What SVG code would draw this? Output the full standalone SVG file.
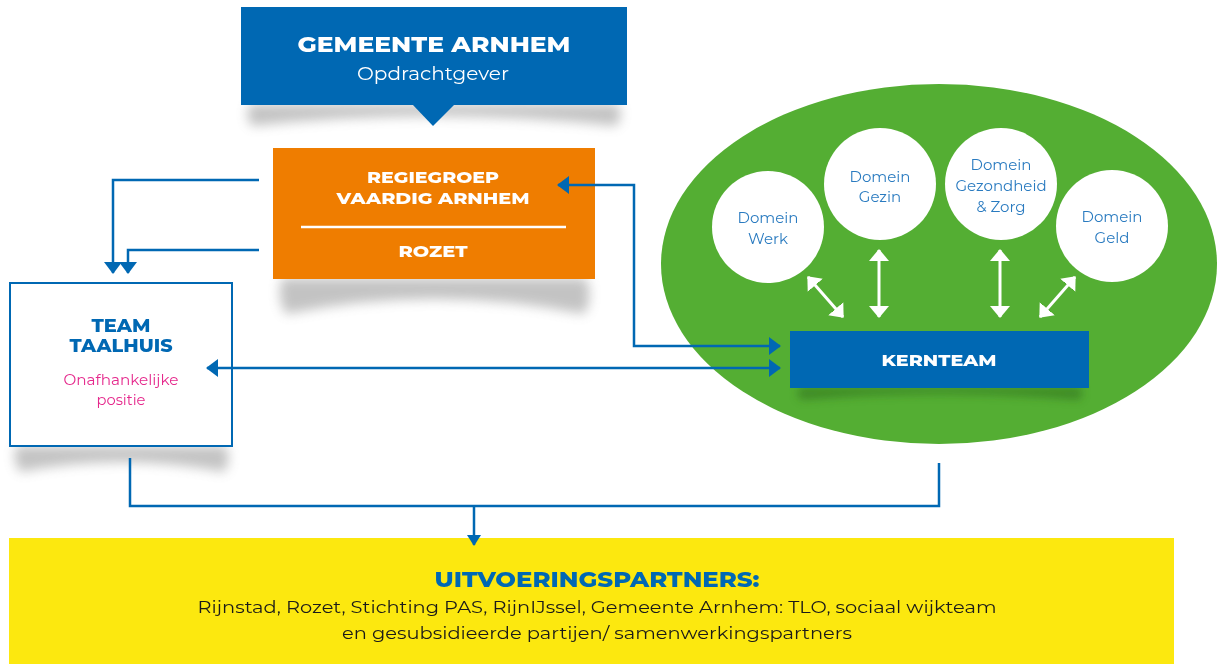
<svg xmlns="http://www.w3.org/2000/svg" width="1217" height="664" viewBox="0 0 1217 664">
<defs>
<style>
.bold{font-family:Montserrat,"Open Sans","Noto Sans",sans-serif;font-weight:800;}
.reg{font-family:Montserrat,"Open Sans","Noto Sans",sans-serif;font-weight:400;}
.conn{fill:none;stroke:#0068b3;stroke-width:2.5;}
.wconn{fill:none;stroke:#ffffff;stroke-width:3;}
.dom{fill:#2a7bc0;font-size:15px;text-anchor:middle;}
.shd{fill:#7a7a7a;}
</style>
<filter id="blur" x="-20%" y="-100%" width="140%" height="300%"><feGaussianBlur stdDeviation="6"/></filter>
<filter id="blur2" x="-20%" y="-100%" width="140%" height="300%"><feGaussianBlur stdDeviation="4"/></filter>
<marker id="ab" markerUnits="userSpaceOnUse" markerWidth="12" markerHeight="18" refX="11" refY="9" orient="auto-start-reverse"><path d="M0,0 L12,9 L0,18 z" fill="#0068b3"/></marker>
<marker id="abs" markerUnits="userSpaceOnUse" markerWidth="11" markerHeight="14" refX="10" refY="7" orient="auto"><path d="M0,0 L11,7 L0,14 z" fill="#0068b3"/></marker>
<marker id="aw" markerUnits="userSpaceOnUse" markerWidth="12" markerHeight="20" refX="11" refY="10" orient="auto-start-reverse"><path d="M0,0 L12,10 L0,20 z" fill="#ffffff"/></marker>
</defs>
<rect width="1217" height="664" fill="#ffffff"/>

<g id="shadows" opacity="0.45">
<path class="shd" d="M250,104 L618,104 Q624,116 616,126 Q433,106 252,126 Q244,116 250,104 z" filter="url(#blur)"/>
<path class="shd" d="M282,278 L586,278 Q594,298 584,314 Q434,284 286,314 Q276,298 282,278 z" filter="url(#blur)"/>
<path class="shd" d="M16,446 L226,446 Q232,460 224,472 Q121,452 20,472 Q12,460 16,446 z" filter="url(#blur)"/>
</g>

<g id="green-area">
<ellipse cx="939" cy="264" rx="278" ry="180" fill="#54ae33"/>
</g>

<g id="gemeente">
<rect x="241" y="7" width="386" height="98" fill="#0068b3"/>
<path d="M412,104 L455,104 L433,126 z" fill="#0068b3"/>
<text class="bold" x="434" y="52" font-size="22" fill="#ffffff" text-anchor="middle" textLength="273" lengthAdjust="spacingAndGlyphs">GEMEENTE ARNHEM</text>
<text class="reg" x="433" y="80" font-size="18" fill="#ffffff" text-anchor="middle" textLength="152" lengthAdjust="spacingAndGlyphs">Opdrachtgever</text>
</g>

<g id="regiegroep">
<rect x="273" y="148" width="322" height="131" fill="#ef7d00"/>
<text class="bold" x="433" y="183" font-size="17" fill="#ffffff" text-anchor="middle" textLength="132" lengthAdjust="spacingAndGlyphs">REGIEGROEP</text>
<text class="bold" x="433" y="204" font-size="17" fill="#ffffff" text-anchor="middle" textLength="193" lengthAdjust="spacingAndGlyphs">VAARDIG ARNHEM</text>
<line x1="301" y1="227" x2="566" y2="227" stroke="#ffffff" stroke-width="2.5"/>
<text class="bold" x="433" y="257" font-size="17" fill="#ffffff" text-anchor="middle" textLength="69" lengthAdjust="spacingAndGlyphs">ROZET</text>
</g>

<g id="taalhuis">
<rect x="10" y="283" width="222" height="163" fill="#ffffff" stroke="#0068b3" stroke-width="2"/>
<text class="bold" x="121" y="332" font-size="18" fill="#0068b3" text-anchor="middle" textLength="59" lengthAdjust="spacingAndGlyphs">TEAM</text>
<text class="bold" x="121" y="352" font-size="18" fill="#0068b3" text-anchor="middle" textLength="103" lengthAdjust="spacingAndGlyphs">TAALHUIS</text>
<text class="reg" x="121" y="385" font-size="15" fill="#e5288c" text-anchor="middle" textLength="115" lengthAdjust="spacingAndGlyphs">Onafhankelijke</text>
<text class="reg" x="121" y="405" font-size="15" fill="#e5288c" text-anchor="middle" textLength="49" lengthAdjust="spacingAndGlyphs">positie</text>
</g>

<g id="kernteam">
<path d="M800,387 L1080,387 Q1086,395 1078,400 Q939,388 802,400 Q794,395 800,387 z" fill="#2f6e1c" filter="url(#blur2)" opacity="0.55"/>
<rect x="790" y="331" width="299" height="57" fill="#0068b3"/>
<text class="bold" x="939" y="366" font-size="17" fill="#ffffff" text-anchor="middle" textLength="115" lengthAdjust="spacingAndGlyphs">KERNTEAM</text>
</g>

<g id="domein-werk">
<circle cx="768" cy="227" r="56" fill="#ffffff"/>
<text class="reg dom" x="768" y="223">Domein</text>
<text class="reg dom" x="768" y="244">Werk</text>
</g>
<g id="domein-gezin">
<circle cx="880" cy="184" r="56" fill="#ffffff"/>
<text class="reg dom" x="880" y="182">Domein</text>
<text class="reg dom" x="880" y="202">Gezin</text>
</g>
<g id="domein-gezondheid">
<circle cx="1001" cy="184" r="56" fill="#ffffff"/>
<text class="reg dom" x="1001" y="170">Domein</text>
<text class="reg dom" x="1001" y="191">Gezondheid</text>
<text class="reg dom" x="1001" y="212">&amp; Zorg</text>
</g>
<g id="domein-geld">
<circle cx="1112" cy="226" r="56" fill="#ffffff"/>
<text class="reg dom" x="1112" y="222">Domein</text>
<text class="reg dom" x="1112" y="243">Geld</text>
</g>

<g id="uitvoering">
<rect x="9" y="538" width="1165" height="126" fill="#fce80f"/>
<text class="bold" x="597" y="587" font-size="21" fill="#0068b3" text-anchor="middle" textLength="325" lengthAdjust="spacingAndGlyphs">UITVOERINGSPARTNERS:</text>
<text class="reg" x="597" y="613" font-size="17" fill="#1a1a1a" text-anchor="middle" textLength="799" lengthAdjust="spacingAndGlyphs">Rijnstad, Rozet, Stichting PAS, RijnIJssel, Gemeente Arnhem: TLO, sociaal wijkteam</text>
<text class="reg" x="597" y="639" font-size="17" fill="#1a1a1a" text-anchor="middle" textLength="510" lengthAdjust="spacingAndGlyphs">en gesubsidieerde partijen/ samenwerkingspartners</text>
</g>

<g id="connectors">
<path class="conn" d="M259,180 L113,180 L113,273" marker-end="url(#ab)"/>
<path class="conn" d="M259,250 L128,250 L128,273" marker-end="url(#ab)"/>
<path class="conn" d="M558,185 L634,185 L634,346 L780,346" marker-start="url(#ab)" marker-end="url(#ab)"/>
<path class="conn" d="M207,368 L780,368" marker-start="url(#ab)" marker-end="url(#ab)"/>
<path class="conn" d="M130,458 L130,506 L939,506 L939,463"/>
<path class="conn" d="M474,506 L474,545" marker-end="url(#abs)"/>
<path class="wconn" d="M808,277 L843,317" marker-start="url(#aw)" marker-end="url(#aw)"/>
<path class="wconn" d="M879,250 L879,317" marker-start="url(#aw)" marker-end="url(#aw)"/>
<path class="wconn" d="M1000,250 L1000,317" marker-start="url(#aw)" marker-end="url(#aw)"/>
<path class="wconn" d="M1075,277 L1040,317" marker-start="url(#aw)" marker-end="url(#aw)"/>
</g>
</svg>
